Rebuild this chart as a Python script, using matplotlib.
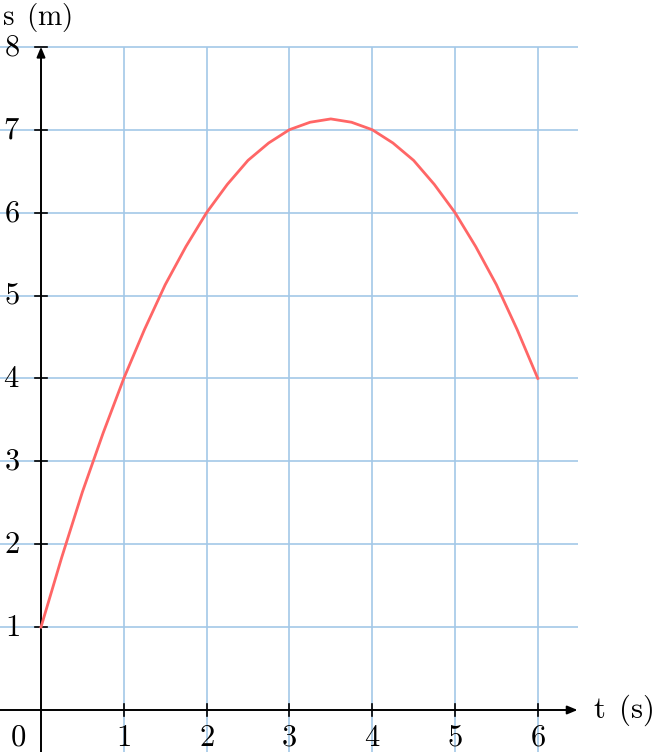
import matplotlib
matplotlib.use("Agg")
import matplotlib.pyplot as plt

plt.rcParams['mathtext.fontset'] = 'cm'
plt.rcParams['font.family'] = 'DejaVu Serif'

t = [0, 0.25, 0.5, 0.75, 1, 1.25, 1.5, 1.75, 2, 2.25, 2.5, 2.75, 3,
     3.25, 3.5, 3.75, 4, 4.25, 4.5, 4.75, 5, 5.25, 5.5, 5.75, 6]
s = [1, 1.84, 2.63, 3.34, 4, 4.59, 5.13, 5.59, 6, 6.34, 6.63, 6.84, 7,
     7.09, 7.13, 7.09, 7, 6.84, 6.63, 6.34, 6, 5.59, 5.13, 4.59, 4]
x_ticks = [1, 2, 3, 4, 5, 6]
y_ticks = [1, 2, 3, 4, 5, 6, 7, 8]

fig = plt.figure(figsize=(6.58, 7.52), dpi=100)
ax = fig.add_axes([0, 0, 1, 1])
xmin, xmax = -41/82.8, (658-41)/82.8
ymin, ymax = (710-752)/82.9, 710/82.9
ax.set_xlim(xmin, xmax)
ax.set_ylim(ymin, ymax)
ax.axis('off')

grid_c = '#a3c8e8'
gx_end = 6.48
fs = 22
ax.hlines(y_ticks, xmin, gx_end, color=grid_c, lw=1.2, zorder=1)
ax.vlines(x_ticks, ymin, 8, color=grid_c, lw=1.2, zorder=1)

# axes with arrows
ax.annotate('', xy=(gx_end, 0), xytext=(xmin, 0),
            arrowprops=dict(arrowstyle='-|>,head_length=0.6,head_width=0.25', color='black', lw=1.4,
                            shrinkA=0, shrinkB=0), zorder=3)
ax.annotate('', xy=(0, 8), xytext=(0, ymin),
            arrowprops=dict(arrowstyle='-|>,head_length=0.6,head_width=0.25', color='black', lw=1.4,
                            shrinkA=0, shrinkB=0), zorder=3)
# ticks
for xt in x_ticks:
    ax.plot([xt, xt], [-0.07, 0.07], color='black', lw=1.2, zorder=3)
    ax.text(xt, -0.14, r'$%d$' % xt, ha='center', va='top', fontsize=fs)
for yt in y_ticks:
    ax.plot([-0.07, 0.07], [yt, yt], color='black', lw=1.2, zorder=3)
    ax.text(-0.26, yt, r'$%d$' % yt, ha='right', va='center', fontsize=fs)
ax.text(-0.18, -0.14, r'$0$', ha='right', va='top', fontsize=fs)

ax.plot(t, s, color='#ff6666', lw=2.0, zorder=4)

ax.text(6.67, 0, r'$\mathrm{t\ \,(s)}$', ha='left', va='center', fontsize=fs)
ax.text(-0.475, ymax - 0.01, r'$\mathrm{s\ \,(m)}$', ha='left', va='top', fontsize=21)

fig.savefig('out.png', dpi=100)
